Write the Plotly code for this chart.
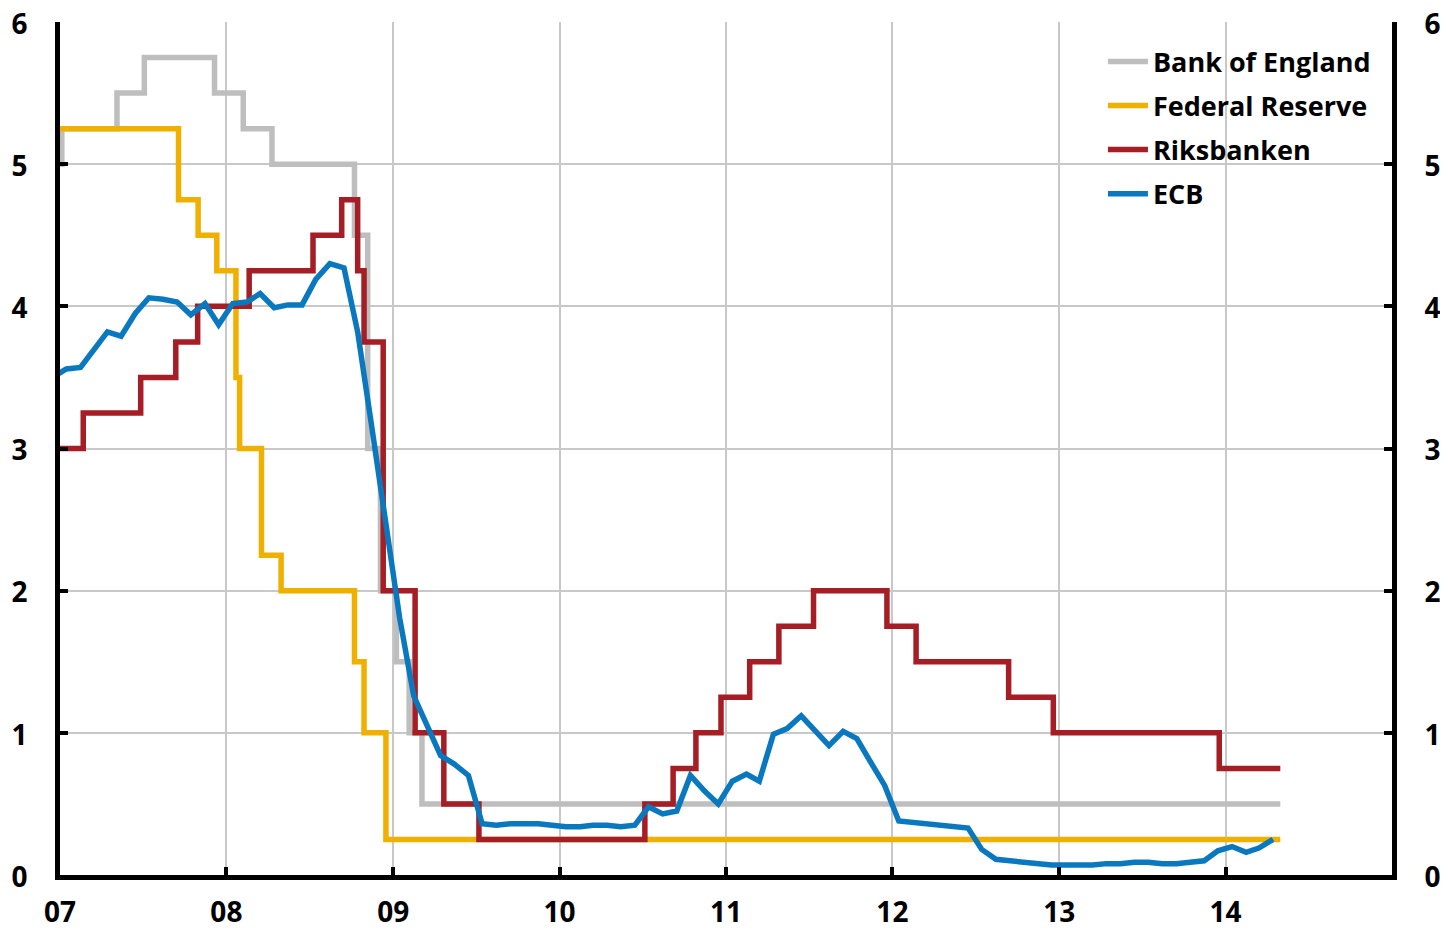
import plotly.graph_objects as go

# ---------------- data ----------------
boe_dates = ["2007-01-01", "2007-01-05", "2007-05-06", "2007-07-05", "2007-12-06",
             "2008-02-07", "2008-04-10", "2008-10-08", "2008-11-06", "2008-12-04",
             "2009-01-08", "2009-02-05", "2009-03-05", "2014-05-01"]
boe_rates = [5.0, 5.25, 5.5, 5.75, 5.5, 5.25, 5.0, 4.5, 3.0, 2.0, 1.5, 1.0, 0.5, 0.5]

fed_dates = ["2007-01-01", "2007-09-18", "2007-10-31", "2007-12-11", "2008-01-22",
             "2008-01-30", "2008-03-18", "2008-04-30", "2008-10-08", "2008-10-29",
             "2008-12-16", "2014-05-01"]
fed_rates = [5.25, 4.75, 4.5, 4.25, 3.5, 3.0, 2.25, 2.0, 1.5, 1.0, 0.25, 0.25]

rb_dates = ["2007-01-01", "2007-02-21", "2007-06-27", "2007-09-12", "2007-10-30",
            "2008-02-20", "2008-07-09", "2008-09-10", "2008-10-15", "2008-10-29",
            "2008-12-10", "2009-02-18", "2009-04-22", "2009-07-08", "2010-07-07",
            "2010-09-07", "2010-10-27", "2010-12-21", "2011-02-22", "2011-04-27",
            "2011-07-12", "2011-12-20", "2012-02-22", "2012-09-12", "2012-12-19",
            "2013-12-18", "2014-05-01"]
rb_rates = [3.0, 3.25, 3.5, 3.75, 4.0, 4.25, 4.5, 4.75, 4.25, 3.75,
            2.0, 1.0, 0.5, 0.25, 0.5, 0.75, 1.0, 1.25, 1.5, 1.75,
            2.0, 1.75, 1.5, 1.25, 1.0, 0.75, 0.75]

ecb_months = ["2006-12-15",
              "2007-01-15", "2007-02-15", "2007-03-15", "2007-04-15", "2007-05-15", "2007-06-15",
              "2007-07-15", "2007-08-15", "2007-09-15", "2007-10-15", "2007-11-15", "2007-12-15",
              "2008-01-15", "2008-02-15", "2008-03-15", "2008-04-15", "2008-05-15", "2008-06-15",
              "2008-07-15", "2008-08-15", "2008-09-15", "2008-10-15", "2008-11-15", "2008-12-15",
              "2009-01-15", "2009-02-15", "2009-03-15", "2009-04-15", "2009-05-15", "2009-06-15",
              "2009-07-15", "2009-08-15", "2009-09-15", "2009-10-15", "2009-11-15", "2009-12-15",
              "2010-01-15", "2010-02-15", "2010-03-15", "2010-04-15", "2010-05-15", "2010-06-15",
              "2010-07-15", "2010-08-15", "2010-09-15", "2010-10-15", "2010-11-15", "2010-12-15",
              "2011-01-15", "2011-02-15", "2011-03-15", "2011-04-15", "2011-05-15", "2011-06-15",
              "2011-07-15", "2011-08-15", "2011-09-15", "2011-10-15", "2011-11-15", "2011-12-15",
              "2012-01-15", "2012-02-15", "2012-03-15", "2012-04-15", "2012-05-15", "2012-06-15",
              "2012-07-15", "2012-08-15", "2012-09-15", "2012-10-15", "2012-11-15", "2012-12-15",
              "2013-01-15", "2013-02-15", "2013-03-15", "2013-04-15", "2013-05-15", "2013-06-15",
              "2013-07-15", "2013-08-15", "2013-09-15", "2013-10-15", "2013-11-15", "2013-12-15",
              "2014-01-15", "2014-02-15", "2014-03-15", "2014-04-15"]
ecb_rates = [3.50,
             3.56, 3.57, 3.69, 3.82, 3.79, 3.95, 4.06, 4.05, 4.03, 3.94, 4.02, 3.87,
             4.02, 4.03, 4.09, 3.99, 4.01, 4.01, 4.19, 4.30, 4.27, 3.82, 3.15, 2.49,
             1.81, 1.26, 1.06, 0.84, 0.78, 0.70, 0.36, 0.35, 0.36, 0.36, 0.36, 0.35,
             0.34, 0.34, 0.35, 0.35, 0.34, 0.35, 0.48, 0.43, 0.45, 0.70, 0.59, 0.50,
             0.66, 0.71, 0.66, 0.99, 1.03, 1.12, 1.01, 0.91, 1.01, 0.96, 0.79, 0.63,
             0.38, 0.37, 0.36, 0.35, 0.34, 0.33, 0.18, 0.11, 0.10, 0.09, 0.08, 0.07,
             0.07, 0.07, 0.07, 0.08, 0.08, 0.09, 0.09, 0.08, 0.08, 0.09, 0.10, 0.17,
             0.20, 0.16, 0.19, 0.25]

year_ticks = ["2007-01-01", "2008-01-01", "2009-01-01", "2010-01-01",
              "2011-01-01", "2012-01-01", "2013-01-01", "2014-01-01"]
year_labels = ["07", "08", "09", "10", "11", "12", "13", "14"]
y_ticks = [0, 1, 2, 3, 4, 5, 6]

# ---------------- figure ----------------
FONT = "Open Sans"
fig = go.Figure()

series = [
    ("Bank of England", boe_dates, boe_rates, "#BEBEBE", "hv"),
    ("Federal Reserve", fed_dates, fed_rates, "#F0B000", "hv"),
    ("Riksbanken", rb_dates, rb_rates, "#A51E25", "hv"),
    ("ECB", ecb_months, ecb_rates, "#0A78BE", "linear"),
]
for name, xs, ys, col, shape in series:
    fig.add_trace(go.Scatter(x=xs, y=ys, name=name, mode="lines",
                             legendgroup=name,
                             line=dict(color=col, width=5.5, shape=shape),
                             hoverinfo="skip"))

# invisible trace to anchor right-hand axis
fig.add_trace(go.Scatter(x=ecb_months, y=ecb_rates, yaxis="y2", mode="lines",
                         line=dict(color="rgba(0,0,0,0)"), showlegend=False,
                         hoverinfo="skip"))

tickfont = dict(family=FONT, size=28, color="black", weight="bold")
axis_common = dict(showline=True, linecolor="black", linewidth=5,
                   ticks="inside", ticklen=8, tickwidth=3.5, tickcolor="black",
                   tickfont=tickfont, zeroline=False, automargin=False,
                   ticklabeloverflow="allow")

fig.update_layout(
    width=1440, height=922,
    margin=dict(l=52, r=56, t=14, b=55, autoexpand=False),
    paper_bgcolor="white", plot_bgcolor="white",
    showlegend=True,
    legend=dict(x=0.783, y=0.982, xanchor="left", yanchor="top",
                bgcolor="rgba(0,0,0,0)", borderwidth=0,
                font=dict(family=FONT, size=27, color="black", weight="bold"),
                tracegroupgap=6, itemwidth=40),
    xaxis=dict(type="date", range=["2007-01-01", "2015-01-01"],
               tickvals=year_ticks, ticktext=year_labels,
               showgrid=True, gridcolor="#C8C8C8", gridwidth=1.5,
               ticklabelstandoff=8, **axis_common),
    yaxis=dict(range=[0, 6.0001], tickvals=y_ticks,
               showgrid=True, gridcolor="#C8C8C8", gridwidth=1.5,
               ticklabelstandoff=22, ticklabelshift=2, **axis_common),
    yaxis2=dict(range=[0, 6.0001], tickvals=y_ticks, overlaying="y", side="right",
                showgrid=False, ticklabelstandoff=22, ticklabelshift=2,
                **axis_common),
)

fig.write_html("out.html")
